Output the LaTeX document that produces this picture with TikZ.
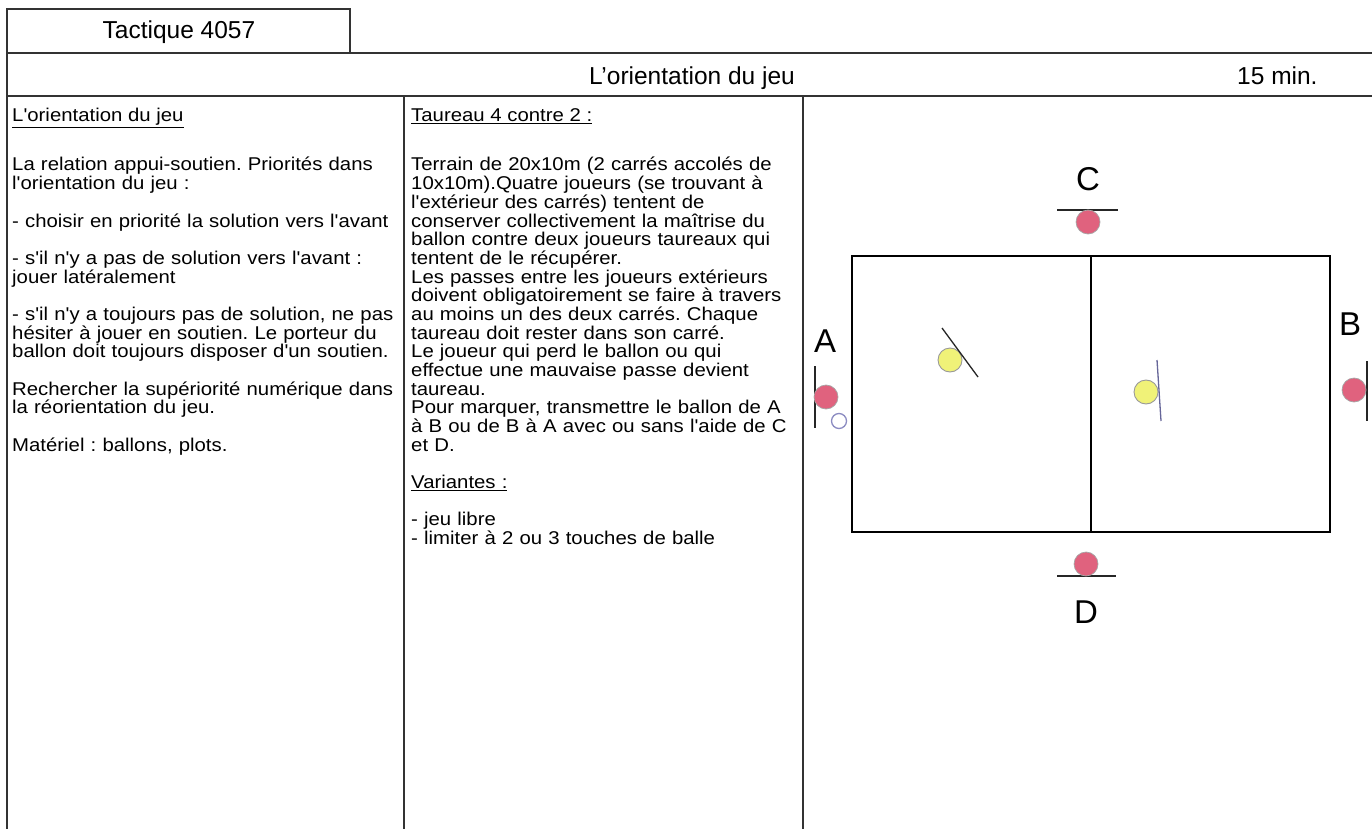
\documentclass[tikz,border=0pt]{standalone}
\usepackage{fontspec}
\setmainfont{Liberation Sans}
\newfontfamily\bodyfont[FakeStretch=1.1]{Liberation Sans}
\definecolor{pred}{RGB}{224,98,126}
\definecolor{pyel}{RGB}{240,242,120}
\frenchspacing
\begin{document}
\begin{tikzpicture}[x=1pt,y=-1pt,
  frame/.style={draw=black!80, line width=1.8pt},
  field/.style={draw=black, line width=1.8pt},
  txt/.style={anchor=base west, inner sep=0pt, font=\bodyfont\fontsize{18.5}{18.67}\selectfont\frenchspacing, align=left},
  head/.style={anchor=base, inner sep=0pt, font=\fontsize{24.5}{28}\selectfont},
  lbl/.style={anchor=base, inner sep=0pt, font=\fontsize{33}{36}\selectfont},
  redp/.style={circle, fill=pred, draw=gray!70, line width=0.7pt, minimum size=24pt, inner sep=0pt},
  yelp/.style={circle, fill=pyel, draw=gray!80, line width=0.9pt, minimum size=24pt, inner sep=0pt},
  ball/.style={circle, fill=white, draw=blue!30!gray!70, line width=1.3pt, minimum size=15pt, inner sep=0pt},
  bar/.style={draw=black!85, line width=1.5pt}]
\useasboundingbox[fill=white] (0,0) rectangle (1372,829);
% table frame
\draw[frame] (7,829) -- (7,9) -- (350,9) -- (350,53);
\draw[frame] (7,53) -- (1372,53);
\draw[frame] (7,96) -- (1372,96);
\draw[frame] (404,96) -- (404,829);
\draw[frame] (803,96) -- (803,829);
% header texts
\node[head] (tac) at (179,39) {Tactique 4057};
\node[head] (title) at (692,85) {L’orientation du jeu};
\node[head, anchor=base west] (dur) at (1237,85) {15 min.};
% left column
\node[txt] (lh) at (12,122) {\underline{L'orientation du jeu}};
\node[txt, text width=390pt] (lt) at (12,171) {La relation appui-soutien. Priorités dans\\
l'orientation du jeu :\\[18.67pt]
- choisir en priorité la solution vers l'avant\\[18.67pt]
- s'il n'y a pas de solution vers l'avant :\\
jouer latéralement\\[18.67pt]
- s'il n'y a toujours pas de solution, ne pas\\
hésiter à jouer en soutien. Le porteur du\\
ballon doit toujours disposer d'un soutien.\\[18.67pt]
Rechercher la supériorité numérique dans\\
la réorientation du jeu.\\[18.67pt]
Matériel : ballons, plots.};
% middle column
\node[txt] (mh) at (411,122) {\underline{Taureau 4 contre 2 :}};
\node[txt, text width=390pt] (mt) at (411,171) {Terrain de 20x10m (2 carrés accolés de\\
10x10m).Quatre joueurs (se trouvant à\\
l'extérieur des carrés) tentent de\\
conserver collectivement la maîtrise du\\
ballon contre deux joueurs taureaux qui\\
tentent de le récupérer.\\
Les passes entre les joueurs extérieurs\\
doivent obligatoirement se faire à travers\\
au moins un des deux carrés. Chaque\\
taureau doit rester dans son carré.\\
Le joueur qui perd le ballon ou qui\\
effectue une mauvaise passe devient\\
taureau.\\
Pour marquer, transmettre le ballon de A\\
à B ou de B à A avec ou sans l'aide de C\\
et D.\\[18.67pt]
\underline{Variantes :}\\[18.67pt]
- jeu libre\\
- limiter à 2 ou 3 touches de balle};
% field
\draw[field] (852,256) rectangle (1330,532);
\draw[field] (1091,256) -- (1091,532);
% labels
\node[lbl] (lC) at (1088,190) {C};
\node[lbl] (lD) at (1086,623) {D};
\node[lbl] (lA) at (825,352) {A};
\node[lbl] (lB) at (1350,335) {B};
% players
\draw[bar] (1057,210) -- (1118,210);
\node[redp] (pC) at (1088,222) {};
\draw[bar] (1057,576) -- (1116,576);
\node[redp] (pD) at (1086,564) {};
\draw[bar] (815,366) -- (815,428);
\node[redp] (pA) at (826,397) {};
\node[ball] (bA) at (839,421) {};
\draw[bar] (1367,361) -- (1367,421);
\node[redp] (pB) at (1354,390) {};
\node[yelp] (y1) at (950,360) {};
\draw[bar, line width=1.3pt] (942,328) -- (978,377);
\node[yelp] (y2) at (1146,392) {};
\draw[bar, line width=1.3pt, draw=gray!80!blue] (1157,360) -- (1161,421);
\end{tikzpicture}
\end{document}
